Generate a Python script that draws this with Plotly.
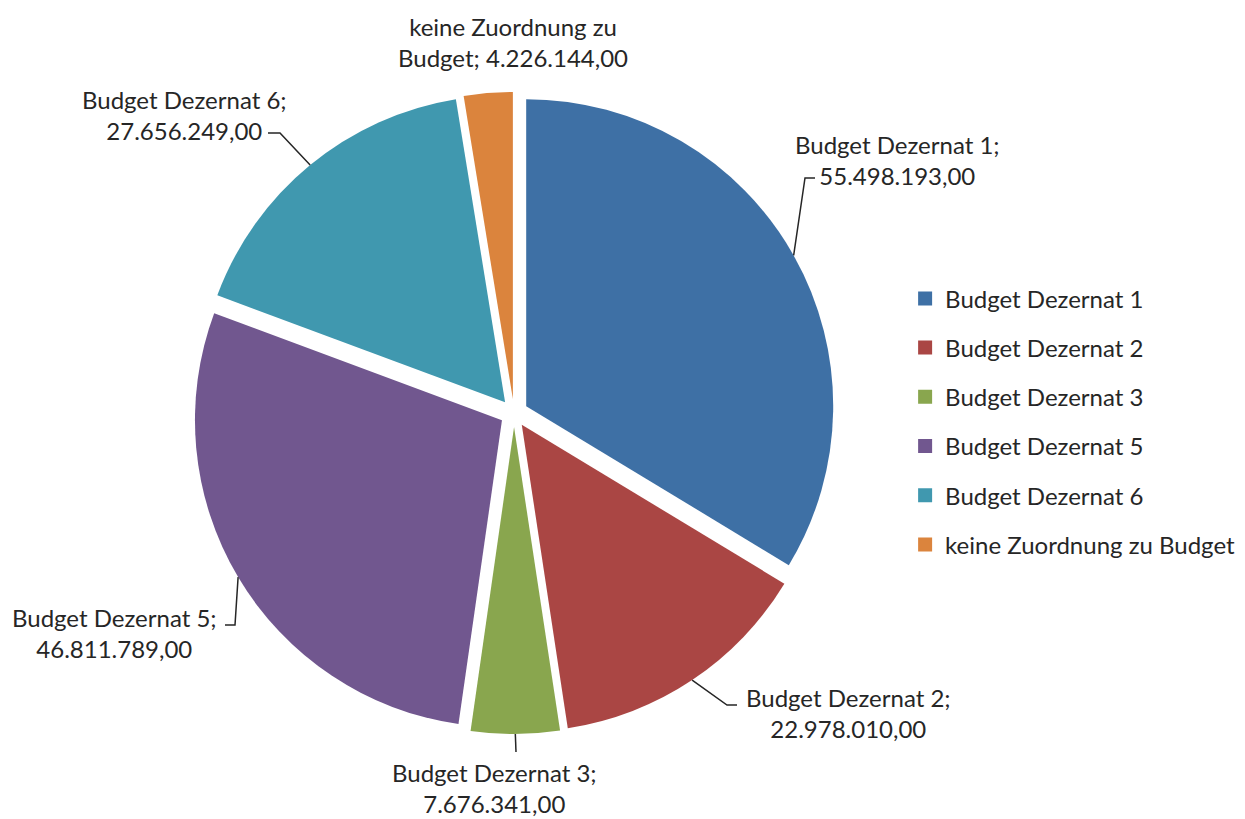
import math

import plotly.graph_objects as go

W, H = 1245, 819

labels = [
    "Budget Dezernat 1",
    "Budget Dezernat 2",
    "Budget Dezernat 3",
    "Budget Dezernat 5",
    "Budget Dezernat 6",
    "keine Zuordnung zu Budget",
]
values = [55498193.00, 22978010.00, 7676341.00, 46811789.00, 27656249.00, 4226144.00]
label_texts = [
    "Budget Dezernat 1;<br>{v}",
    "Budget Dezernat 2;<br>{v}",
    "Budget Dezernat 3;<br>{v}",
    "Budget Dezernat 5;<br>{v}",
    "Budget Dezernat 6;<br>{v}",
    "keine Zuordnung zu<br>Budget; {v}",
]

COLORS = ["#3E70A5", "#AA4644", "#89A64E", "#71578F", "#4098AF", "#DB843D"]
TEXT_COLOR = "#262626"
LINE_COLOR = "#262626"
FONT = "Lato"

# pie geometry in pixels
CX, CY, R = 514, 413, 307
PULL = 0.0456

# label placement: text centre and leader line points near the text (pixels)
LABEL_POS = [(897, 160), (848, 713), (494, 788), (114, 633), (185, 115), (513, 42)]
LEADER = [
    [(805, 178), (815, 178)],
    [(727, 705), (737, 705)],
    [(516, 752)],
    [(235, 625), (225, 625)],
    [(280, 133), (268, 133)],
    None,
]


def de_number(v):
    s = f"{v:,.2f}"
    return s.replace(",", "X").replace(".", ",").replace("X", ".")


def px(x, y):
    return x / W, 1 - y / H


half = R * (1 + PULL)
dom_x = [(CX - half) / W, (CX + half) / W]
dom_y = [1 - (CY + half) / H, 1 - (CY - half) / H]

fig = go.Figure()
fig.add_trace(
    go.Pie(
        labels=labels,
        values=values,
        sort=False,
        direction="clockwise",
        rotation=0,
        pull=[PULL] * len(values),
        marker=dict(colors=COLORS, line=dict(width=0)),
        textinfo="none",
        domain=dict(x=dom_x, y=dom_y),
        showlegend=False,
        hovertemplate="%{label}: %{value:,.2f}<extra></extra>",
    )
)

# legend entries with extra spacing
for name, color in zip(labels, COLORS):
    fig.add_trace(
        go.Scatter(
            x=[None],
            y=[None],
            mode="markers",
            name=name,
            legendgroup=name,
            marker=dict(symbol="square", size=14, color=color),
            hoverinfo="skip",
        )
    )

total = sum(values)
cum = 0.0
for i, v in enumerate(values):
    mid = (cum + v / 2) / total * 2 * math.pi
    cum += v
    tx, ty = LABEL_POS[i]
    x, y = px(tx, ty)
    fig.add_annotation(
        x=x,
        y=y,
        xref="paper",
        yref="paper",
        text=label_texts[i].format(v=de_number(v)),
        showarrow=False,
        xanchor="center",
        yanchor="middle",
        align="center",
        font=dict(size=24, color=TEXT_COLOR, family=FONT),
    )
    if LEADER[i]:
        ex = CX + half * math.sin(mid)
        ey = CY - half * math.cos(mid)
        pts = [(ex, ey)] + LEADER[i]
        path = "M " + " L ".join(f"{px(a, b)[0]} {px(a, b)[1]}" for a, b in pts)
        fig.add_shape(
            type="path",
            path=path,
            xref="paper",
            yref="paper",
            line=dict(color=LINE_COLOR, width=1.5),
        )

fig.update_layout(
    width=W,
    height=H,
    margin=dict(l=0, r=0, t=0, b=0),
    paper_bgcolor="white",
    plot_bgcolor="white",
    font=dict(family=FONT, size=24, color=TEXT_COLOR),
    xaxis=dict(visible=False),
    yaxis=dict(visible=False),
    legend=dict(
        x=0.727,
        y=0.485,
        xanchor="left",
        yanchor="middle",
        tracegroupgap=15,
        itemclick=False,
        itemdoubleclick=False,
        font=dict(size=24, family=FONT, color=TEXT_COLOR),
    ),
)

fig.write_html(
    "out.html",
    config={"displayModeBar": False},
    post_script="document.body.style.margin = '0';",
)
